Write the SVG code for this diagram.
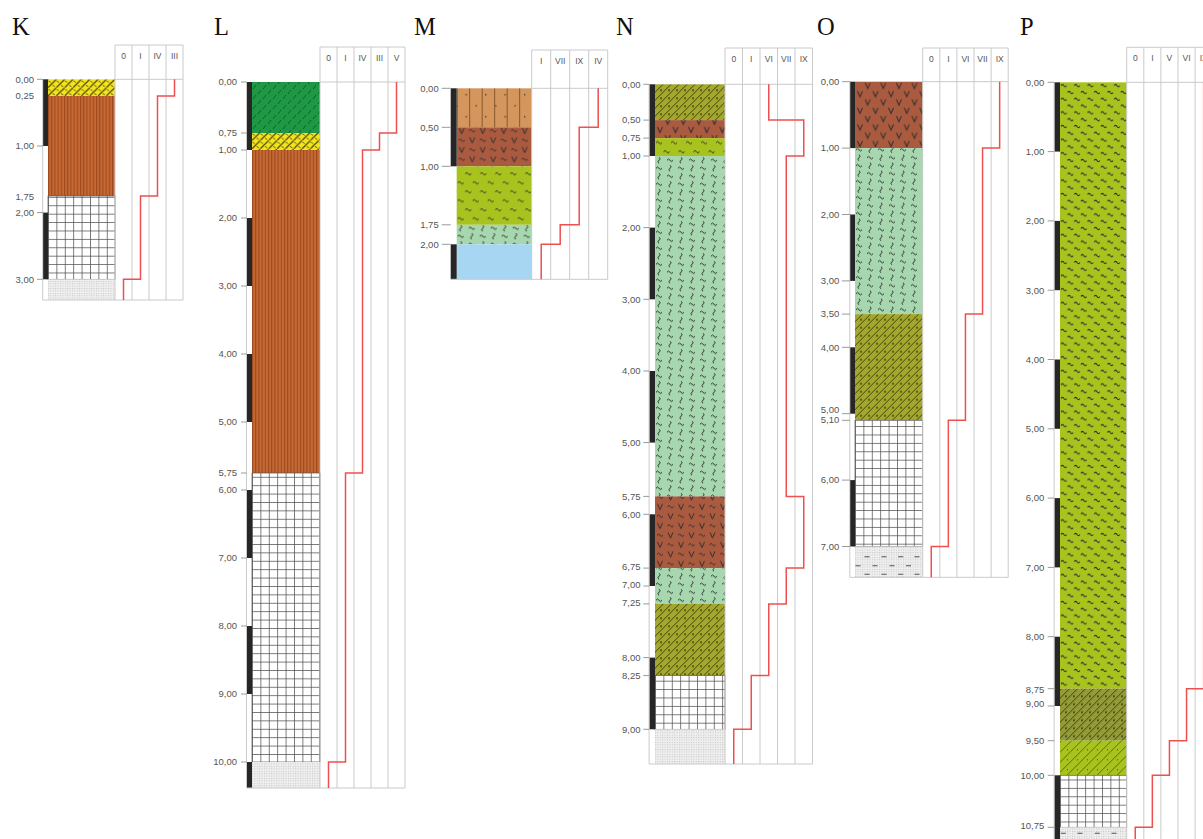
<svg xmlns="http://www.w3.org/2000/svg" width="1203" height="839" viewBox="0 0 1203 839">
<style>
.t{font-family:"Liberation Serif","Times New Roman",serif;font-size:24.5px;fill:#111}
.d{font-family:"Liberation Sans",Arial,sans-serif;font-size:9.5px;fill:#555;text-anchor:end}
.h{font-family:"Liberation Sans",Arial,sans-serif;font-size:8.5px;fill:#555;text-anchor:middle}
.fr{stroke:#cacaca;stroke-width:1;fill:none}
.tk{stroke:#9a9a9a;stroke-width:1;fill:none}
.bar{fill:#262626}
.red{stroke:#ee4f4f;stroke-width:1.5;fill:none}
.gb{stroke:#555;stroke-width:0.7}
.sym{stroke:#2e2e2e;stroke-width:1;fill:none}
.dash{stroke:#555;stroke-width:1.1;fill:none}
</style>
<defs>
<pattern id="p-yellow" width="8.35" height="8.35" patternUnits="userSpaceOnUse">
<rect width="8.35" height="8.35" fill="#f4e41c"/>
<path d="M-1,9.35L9.35,-1" stroke="#4a4610" stroke-width="1.2"/>
<path d="M4.6,6.2q1.4,-0.2 2.2,1.4M0.4,2.0q1.4,-0.2 2.2,1.4" stroke="#4a4610" stroke-width="0.9" fill="none"/>
</pattern>
<pattern id="p-green" width="10" height="10" patternUnits="userSpaceOnUse">
<rect width="10" height="10" fill="#1e9844"/>
<path d="M1,7L4,3M6,12L9,8M6,2L9,-2" stroke="#0e5a26" stroke-width="0.9"/>
</pattern>
<pattern id="p-brown" width="3.2" height="10" patternUnits="userSpaceOnUse">
<rect width="3.2" height="10" fill="#c56832"/>
<rect width="1" height="10" fill="#9a4820"/>
</pattern>
<pattern id="p-grid" width="8.4" height="8.4" patternUnits="userSpaceOnUse">
<rect width="8.4" height="8.4" fill="#fff"/>
<path d="M0,0.4H8.4M0.4,0V8.4" stroke="#505050" stroke-width="0.8"/>
</pattern>
<pattern id="p-dot" width="2.4" height="2.4" patternUnits="userSpaceOnUse">
<rect width="2.4" height="2.4" fill="#efefef"/>
<rect width="1" height="1" fill="#c4c4c4"/>
</pattern>
<pattern id="p-olive" width="8" height="8" patternUnits="userSpaceOnUse">
<rect width="8" height="8" fill="#a3a82b"/>
<path d="M0,8L8,0M-2,2L2,-2M6,10L10,6" stroke="#3b3b0f" stroke-width="0.9"/>
<path d="M5,5l2,2m0,-2l-2,2" stroke="#3b3b0f" stroke-width="0.7"/>
</pattern>
<pattern id="p-olive2" width="8" height="8" patternUnits="userSpaceOnUse">
<rect width="8" height="8" fill="#929b37"/>
<path d="M0,8L8,0M-2,2L2,-2M6,10L10,6" stroke="#3b3b0f" stroke-width="0.9"/>
<path d="M5,5l2,2m0,-2l-2,2" stroke="#3b3b0f" stroke-width="0.7"/>
</pattern>
<pattern id="p-ygdiag" width="10" height="10" patternUnits="userSpaceOnUse">
<rect width="10" height="10" fill="#a8c31e"/>
<path d="M0,10L10,0M-2,2L2,-2M8,12L12,8" stroke="#4a5a12" stroke-width="0.8"/>
<circle cx="7.5" cy="7.5" r="0.6" fill="#333"/>
</pattern>
<pattern id="p-v" width="15.6" height="16.6" patternUnits="userSpaceOnUse">
<rect width="15.6" height="16.6" fill="#aa5a3f"/>
<path class="sym" d="M10.2,1.2L12.7,6.8L15.2,1.2M2.4,9.5L4.9,15.1L7.4,9.5"/>
</pattern>
<pattern id="p-vw" width="21" height="19" patternUnits="userSpaceOnUse">
<rect width="21" height="19" fill="#aa5a3f"/>
<path class="sym" d="M2.5,1.7L5,7.3L7.5,1.7M13,11.2L15.5,16.8L18,11.2"/>
<path class="sym" d="M12.5,4.5q1.5,-2.4 3,0t3,0M2,14q1.5,-2.4 3,0t3,0"/>
</pattern>
<pattern id="p-yg" width="15" height="18" patternUnits="userSpaceOnUse">
<rect width="15" height="18" fill="#a8c31e"/>
<path class="sym" d="M1,4.5q1.5,-2.4 3,0t3,0M8.5,13.5q1.5,-2.4 3,0t3,0"/>
</pattern>
<pattern id="p-ygd" width="13.3" height="13.6" patternUnits="userSpaceOnUse">
<rect width="13.3" height="13.6" fill="#a8c31e"/>
<path class="sym" d="M1,3.4q1.4,-2.2 2.8,0t2.8,0M7.6,10.2q1.4,-2.2 2.8,0t2.8,0"/>
</pattern>
<pattern id="p-lg" width="22" height="16" patternUnits="userSpaceOnUse">
<rect width="22" height="16" fill="#a6d7ae"/>
<path class="sym" d="M1,4q1.5,-2.4 3,0t3,0M12,12q1.5,-2.4 3,0t3,0"/>
<path class="sym" d="M15,1q2.4,1.5 0,3t0,3M4,9q2.4,1.5 0,3t0,3"/>
</pattern>
<pattern id="p-tan" width="12.5" height="10" patternUnits="userSpaceOnUse">
<rect width="12.5" height="10" fill="#d5965e"/>
<rect width="0.9" height="10" fill="#7e5028"/>
</pattern>
<pattern id="p-tandot" width="19.5" height="22" patternUnits="userSpaceOnUse">
<circle cx="9.5" cy="6.5" r="0.8" fill="#333"/>
<circle cx="0" cy="17.5" r="0.8" fill="#333"/>
<circle cx="19.5" cy="17.5" r="0.8" fill="#333"/>
</pattern>
</defs>
<rect width="1203" height="839" fill="#fff"/>

<g id="titles">
<text class="t" x="12" y="35">K</text>
<text class="t" x="214" y="35">L</text>
<text class="t" x="414" y="35">M</text>
<text class="t" x="616" y="35">N</text>
<text class="t" x="817" y="35">O</text>
<text class="t" x="1020" y="35">P</text>
</g>

<g id="col-K" transform="translate(48,79.3)">
<rect x="0" y="0" width="67" height="16.7" fill="url(#p-yellow)"/>
<rect x="0" y="16.7" width="67" height="100" fill="url(#p-brown)"/>
<rect x="0" y="116.7" width="67" height="83.3" fill="url(#p-grid)" class="gb"/>
<rect x="0" y="200" width="67" height="20.7" fill="url(#p-dot)"/>
<rect class="bar" x="-5" y="0" width="5" height="66.7"/>
<rect class="bar" x="-5" y="133.3" width="5" height="66.7"/>
<path class="fr" d="M67,-34.3H135M67,0H135M67,-34.3V220.7M84,-34.3V220.7M101,-34.3V220.7M118,-34.3V220.7M135,-34.3V220.7M-5.3,0V220.7M-5.3,220.7H135"/>
<path class="tk" d="M-11,0H-5M-11,66.7H-5M-11,133.3H-5M-11,200H-5"/>
<text class="h" x="75.5" y="-20.3">0</text>
<text class="h" x="92.5" y="-20.3">I</text>
<text class="h" x="109.5" y="-20.3">IV</text>
<text class="h" x="126.5" y="-20.3">III</text>
<text class="d" x="-14" y="3.4">0,00</text>
<text class="d" x="-14" y="20.1">0,25</text>
<text class="d" x="-14" y="70.1">1,00</text>
<text class="d" x="-14" y="120.6">1,75</text>
<text class="d" x="-14" y="136.7">2,00</text>
<text class="d" x="-14" y="203.4">3,00</text>
<path class="red" d="M126.5,0V16.7H109.5V116.7H92.5V200H75.5V220.7"/>
</g>

<g id="col-L" transform="translate(252,82)">
<rect x="0" y="0" width="68" height="51" fill="url(#p-green)"/>
<rect x="0" y="51" width="68" height="17" fill="url(#p-yellow)"/>
<rect x="0" y="68" width="68" height="323" fill="url(#p-brown)"/>
<rect x="0" y="391" width="68" height="289" fill="url(#p-grid)" class="gb"/>
<rect x="0" y="680" width="68" height="26" fill="url(#p-dot)"/>
<rect class="bar" x="-5.3" y="0" width="5.3" height="68"/>
<rect class="bar" x="-5.3" y="136" width="5.3" height="68"/>
<rect class="bar" x="-5.3" y="272" width="5.3" height="68"/>
<rect class="bar" x="-5.3" y="408" width="5.3" height="68"/>
<rect class="bar" x="-5.3" y="544" width="5.3" height="68"/>
<rect class="bar" x="-5.3" y="680" width="5.3" height="26"/>
<path class="fr" d="M68,-35H153M68,0H153M68,-35V706M85,-35V706M102,-35V706M119,-35V706M136,-35V706M153,-35V706M-5.5,0V706M-5.5,706H153"/>
<path class="tk" d="M-11,0H-5.3M-11,51H-5.3M-11,68H-5.3M-11,136H-5.3M-11,204H-5.3M-11,272H-5.3M-11,340H-5.3M-11,391H-5.3M-11,408H-5.3M-11,476H-5.3M-11,544H-5.3M-11,612H-5.3M-11,680H-5.3"/>
<text class="h" x="76.5" y="-21">0</text>
<text class="h" x="93.5" y="-21">I</text>
<text class="h" x="110.5" y="-21">IV</text>
<text class="h" x="127.5" y="-21">III</text>
<text class="h" x="144.5" y="-21">V</text>
<text class="d" x="-15" y="3.4">0,00</text>
<text class="d" x="-15" y="54.4">0,75</text>
<text class="d" x="-15" y="71.4">1,00</text>
<text class="d" x="-15" y="139.4">2,00</text>
<text class="d" x="-15" y="207.4">3,00</text>
<text class="d" x="-15" y="275.4">4,00</text>
<text class="d" x="-15" y="343.4">5,00</text>
<text class="d" x="-15" y="394.4">5,75</text>
<text class="d" x="-15" y="411.4">6,00</text>
<text class="d" x="-15" y="479.4">7,00</text>
<text class="d" x="-15" y="547.4">8,00</text>
<text class="d" x="-15" y="615.4">9,00</text>
<text class="d" x="-15" y="683.4">10,00</text>
<path class="red" d="M144.5,0V51H127.5V68H110.5V391H93.5V680H76.5V706"/>
</g>

<g id="col-M" transform="translate(456.7,88.3)">
<rect x="0" y="0" width="75" height="39" fill="url(#p-tan)"/>
<rect x="0" y="0" width="75" height="39" fill="url(#p-tandot)"/>
<rect x="0" y="39" width="75" height="39" fill="url(#p-vw)"/>
<rect x="0" y="78" width="75" height="58.5" fill="url(#p-yg)"/>
<rect x="0" y="136.5" width="75" height="19.5" fill="url(#p-lg)"/>
<rect x="0" y="156" width="75" height="35" fill="#a6d6f2"/>
<rect class="bar" x="-6" y="0" width="6" height="78"/>
<rect class="bar" x="-6" y="156" width="6" height="35"/>
<path class="fr" d="M75,-38.3H151M75,0H151M75,-38.3V191M94,-38.3V191M113,-38.3V191M132,-38.3V191M151,-38.3V191M-6,191H151"/>
<path class="tk" d="M-15,0H-6M-15,39H-6M-15,78H-6M-15,136.5H-6M-15,156H-6"/>
<text class="h" x="84.5" y="-24.3">I</text>
<text class="h" x="103.5" y="-24.3">VII</text>
<text class="h" x="122.5" y="-24.3">IX</text>
<text class="h" x="141.5" y="-24.3">IV</text>
<text class="d" x="-18" y="3.4">0,00</text>
<text class="d" x="-18" y="42.4">0,50</text>
<text class="d" x="-18" y="81.4">1,00</text>
<text class="d" x="-18" y="139.9">1,75</text>
<text class="d" x="-18" y="159.4">2,00</text>
<path class="red" d="M141.5,0V39H122.5V136.5H103.5V156H84.5V191"/>
</g>

<g id="col-N" transform="translate(655,84.3)">
<rect x="0" y="0" width="70" height="35.8" fill="url(#p-olive)"/>
<rect x="0" y="35.8" width="70" height="18" fill="url(#p-v)"/>
<rect x="0" y="53.8" width="70" height="17.9" fill="url(#p-yg)"/>
<rect x="0" y="71.7" width="70" height="340.4" fill="url(#p-lg)"/>
<rect x="0" y="412.1" width="70" height="71.7" fill="url(#p-vw)"/>
<rect x="0" y="483.8" width="70" height="35.8" fill="url(#p-lg)"/>
<rect x="0" y="519.6" width="70" height="71.7" fill="url(#p-olive)"/>
<rect x="0" y="591.3" width="70" height="53.7" fill="url(#p-grid)" class="gb"/>
<rect x="0" y="645" width="70" height="34.7" fill="url(#p-dot)"/>
<rect class="bar" x="-5.7" y="0" width="5.7" height="71.7"/>
<rect class="bar" x="-5.7" y="143.3" width="5.7" height="71.7"/>
<rect class="bar" x="-5.7" y="286.7" width="5.7" height="71.6"/>
<rect class="bar" x="-5.7" y="430" width="5.7" height="71.7"/>
<rect class="bar" x="-5.7" y="573.3" width="5.7" height="71.7"/>
<path class="fr" d="M70,-36.3H157.5M70,0H157.5M70,-36.3V679.7M87.5,-36.3V679.7M105,-36.3V679.7M122.5,-36.3V679.7M140,-36.3V679.7M157.5,-36.3V679.7M-5.9,0V679.7M-5.9,679.7H157.5"/>
<path class="tk" d="M-11.7,0H-5.7M-11.7,35.8H-5.7M-11.7,53.8H-5.7M-11.7,71.7H-5.7M-11.7,143.3H-5.7M-11.7,215H-5.7M-11.7,286.7H-5.7M-11.7,358.3H-5.7M-11.7,412.1H-5.7M-11.7,430H-5.7M-11.7,483.8H-5.7M-11.7,501.7H-5.7M-11.7,519.6H-5.7M-11.7,573.3H-5.7M-11.7,591.3H-5.7M-11.7,645H-5.7"/>
<text class="h" x="78.75" y="-22.3">0</text>
<text class="h" x="96.25" y="-22.3">I</text>
<text class="h" x="113.75" y="-22.3">VI</text>
<text class="h" x="131.25" y="-22.3">VII</text>
<text class="h" x="148.75" y="-22.3">IX</text>
<text class="d" x="-14.5" y="3.4">0,00</text>
<text class="d" x="-14.5" y="39.2">0,50</text>
<text class="d" x="-14.5" y="57.2">0,75</text>
<text class="d" x="-14.5" y="75.1">1,00</text>
<text class="d" x="-14.5" y="146.7">2,00</text>
<text class="d" x="-14.5" y="218.4">3,00</text>
<text class="d" x="-14.5" y="290.1">4,00</text>
<text class="d" x="-14.5" y="361.7">5,00</text>
<text class="d" x="-14.5" y="415.5">5,75</text>
<text class="d" x="-14.5" y="433.4">6,00</text>
<text class="d" x="-14.5" y="486.2">6,75</text>
<text class="d" x="-14.5" y="503.8">7,00</text>
<text class="d" x="-14.5" y="522.2">7,25</text>
<text class="d" x="-14.5" y="576.7">8,00</text>
<text class="d" x="-14.5" y="594.7">8,25</text>
<text class="d" x="-14.5" y="648.4">9,00</text>
<path class="red" d="M113.75,0V35.8H148.75V71.7H131.25V412.1H148.75V483.8H131.25V519.6H113.75V591.3H96.25V645H78.75V679.7"/>
</g>

<g id="col-O" transform="translate(855,81.7)">
<rect x="0" y="0" width="67.7" height="66.4" fill="url(#p-v)"/>
<rect x="0" y="66.4" width="67.7" height="166" fill="url(#p-lg)"/>
<rect x="0" y="232.4" width="67.7" height="106.2" fill="url(#p-olive)"/>
<rect x="0" y="338.6" width="67.7" height="126.2" fill="url(#p-grid)" class="gb"/>
<rect x="0" y="464.8" width="67.7" height="30.8" fill="url(#p-dot)"/>
<path class="dash" d="M9.5,475h5M26.5,475h5M43.2,475h5M59.5,475h5M0.5,484h5M17.5,484h5M34.5,484h5M51,484h5M9.5,492.6h5M26.5,492.6h5M43.2,492.6h5M59.5,492.6h5"/>
<rect class="bar" x="-5" y="0" width="5" height="66.4"/>
<rect class="bar" x="-5" y="132.8" width="5" height="66.4"/>
<rect class="bar" x="-5" y="265.6" width="5" height="66.4"/>
<rect class="bar" x="-5" y="398.4" width="5" height="66.4"/>
<path class="fr" d="M67.7,-33.7H153.2M67.7,0H153.2M67.7,-33.7V495.6M84.8,-33.7V495.6M101.9,-33.7V495.6M119,-33.7V495.6M136.1,-33.7V495.6M153.2,-33.7V495.6M-5.2,0V495.6M-5.2,495.6H153.2"/>
<path class="tk" d="M-13,0H-5M-13,66.4H-5M-13,132.8H-5M-13,199.2H-5M-13,232.4H-5M-13,265.6H-5M-13,332H-5M-13,338.6H-5M-13,398.4H-5M-13,464.8H-5"/>
<text class="h" x="76.25" y="-19.7">0</text>
<text class="h" x="93.35" y="-19.7">I</text>
<text class="h" x="110.45" y="-19.7">VI</text>
<text class="h" x="127.55" y="-19.7">VII</text>
<text class="h" x="144.65" y="-19.7">IX</text>
<text class="d" x="-15.7" y="3.4">0,00</text>
<text class="d" x="-15.7" y="69.8">1,00</text>
<text class="d" x="-15.7" y="136.2">2,00</text>
<text class="d" x="-15.7" y="202.6">3,00</text>
<text class="d" x="-15.7" y="235.8">3,50</text>
<text class="d" x="-15.7" y="269">4,00</text>
<text class="d" x="-15.7" y="331.6">5,00</text>
<text class="d" x="-15.7" y="341.6">5,10</text>
<text class="d" x="-15.7" y="401.8">6,00</text>
<text class="d" x="-15.7" y="468.2">7,00</text>
<path class="red" d="M144.65,0V66.4H127.55V232.4H110.45V338.6H93.35V464.8H76.25V495.6"/>
</g>

<g id="col-P" transform="translate(1060,82.3)">
<rect x="0" y="0" width="66.7" height="606.4" fill="url(#p-ygd)"/>
<rect x="0" y="606.4" width="66.7" height="52" fill="url(#p-olive2)"/>
<rect x="0" y="658.4" width="66.7" height="34.6" fill="url(#p-ygdiag)"/>
<rect x="0" y="693" width="66.7" height="52" fill="url(#p-grid)" class="gb"/>
<rect x="0" y="745" width="66.7" height="22.7" fill="url(#p-dot)"/>
<path class="dash" d="M0.8,751h5M17.5,751h5M34.8,751h5M51.5,751h5M9.5,760h5M26.5,760h5M43.2,760h5M59.5,760h5"/>
<rect class="bar" x="-5.7" y="0" width="5.7" height="69.3"/>
<rect class="bar" x="-5.7" y="138.6" width="5.7" height="69.3"/>
<rect class="bar" x="-5.7" y="277.2" width="5.7" height="69.3"/>
<rect class="bar" x="-5.7" y="415.8" width="5.7" height="69.3"/>
<rect class="bar" x="-5.7" y="554.4" width="5.7" height="69.3"/>
<rect class="bar" x="-5.7" y="693" width="5.7" height="74.7"/>
<path class="fr" d="M66.7,-35H152.2M66.7,0H152.2M66.7,-35V767.7M83.8,-35V767.7M100.9,-35V767.7M118,-35V767.7M135.1,-35V767.7M152.2,-35V767.7M-5.9,0V767.7"/>
<path class="tk" d="M-12.3,0H-5.7M-12.3,69.3H-5.7M-12.3,138.6H-5.7M-12.3,207.9H-5.7M-12.3,277.2H-5.7M-12.3,346.5H-5.7M-12.3,415.8H-5.7M-12.3,485.1H-5.7M-12.3,554.4H-5.7M-12.3,606.4H-5.7M-12.3,623.7H-5.7M-12.3,658.4H-5.7M-12.3,693H-5.7M-12.3,745H-5.7"/>
<text class="h" x="75.25" y="-21">0</text>
<text class="h" x="92.35" y="-21">I</text>
<text class="h" x="109.45" y="-21">V</text>
<text class="h" x="126.55" y="-21">VI</text>
<text class="h" x="143.65" y="-21">IX</text>
<text class="d" x="-15.7" y="3.4">0,00</text>
<text class="d" x="-15.7" y="72.7">1,00</text>
<text class="d" x="-15.7" y="142">2,00</text>
<text class="d" x="-15.7" y="211.3">3,00</text>
<text class="d" x="-15.7" y="280.6">4,00</text>
<text class="d" x="-15.7" y="349.9">5,00</text>
<text class="d" x="-15.7" y="419.2">6,00</text>
<text class="d" x="-15.7" y="488.5">7,00</text>
<text class="d" x="-15.7" y="557.8">8,00</text>
<text class="d" x="-15.7" y="610.4">8,75</text>
<text class="d" x="-15.7" y="624.4">9,00</text>
<text class="d" x="-15.7" y="661.8">9,50</text>
<text class="d" x="-15.7" y="696.4">10,00</text>
<text class="d" x="-15.7" y="746.4">10,75</text>
<path class="red" d="M143.65,0V606.4H126.55V658.4H109.45V693H92.35V745H75.25V767.7"/>
</g>
</svg>
